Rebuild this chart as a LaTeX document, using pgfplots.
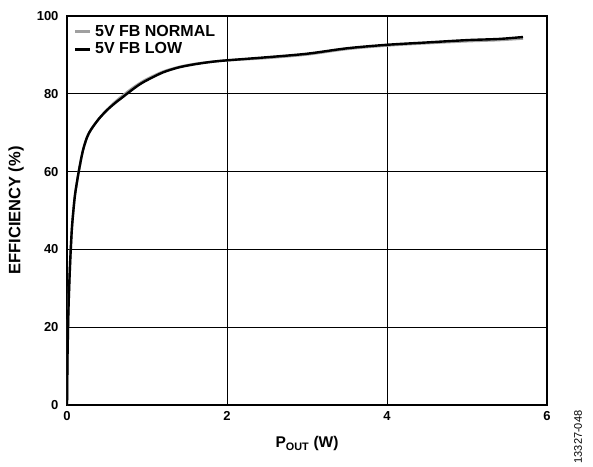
\documentclass[border=0pt]{standalone}
\usepackage{pgfplots}
\pgfplotsset{compat=1.18}
\usepackage{fontspec}
\setmainfont{Liberation Sans}
\definecolor{normgray}{RGB}{160,160,160}

\pgfplotstableread{
x y
0.000 0
0.003 6
0.006 12
0.015 22
0.025 29
0.040 37
0.060 45
0.080 50
0.100 54
0.130 58
0.160 61.5
0.200 65.5
0.250 68.8
0.300 70.8
0.400 73.6
0.500 75.9
0.600 77.9
0.700 79.6
0.800 81.2
0.900 82.6
1.000 83.8
1.200 85.7
1.400 86.9
1.600 87.7
1.800 88.2
2.000 88.6
2.500 89.2
3.000 90.1
3.500 91.5
4.000 92.4
4.500 93.0
5.000 93.5
5.400 93.8
5.700 94.2
}\normaldata

\pgfplotstableread{
x y
0.000 0
0.003 6
0.006 12
0.015 22
0.025 29
0.040 37
0.060 45
0.080 50
0.100 54
0.130 58
0.160 61.5
0.200 65.5
0.250 68.8
0.300 70.8
0.400 73.6
0.500 75.8
0.600 77.6
0.700 79.2
0.800 80.8
0.900 82.3
1.000 83.5
1.200 85.5
1.400 86.8
1.600 87.6
1.800 88.2
2.000 88.6
2.500 89.4
3.000 90.3
3.500 91.7
4.000 92.6
4.500 93.2
5.000 93.8
5.400 94.1
5.700 94.6
}\lowdata

\begin{document}
\begin{tikzpicture}
\begin{axis}[
	scale only axis,
	width=480pt,
	height=389pt,
	xmin=0, xmax=6,
	ymin=0, ymax=100,
	xtick={0,2,4,6},
	ytick={0,20,40,60,80,100},
	grid=major,
	major grid style={black, line width=0.8pt},
	axis line style={line width=1.3pt},
	tick style={draw=none},
	ticklabel style={font=\bfseries\fontsize{13}{15}\selectfont},
	xticklabel style={yshift=-3pt},
	yticklabel style={xshift=-5pt},
	/pgf/number format/assume math mode=true,
	xlabel={\textbf{P\textsubscript{OUT} (W)}},
	ylabel={\textbf{EFFICIENCY (\%)}},
	label style={font=\bfseries\fontsize{15.5}{17}\selectfont},
	xlabel style={yshift=-9pt},
	ylabel style={yshift=6pt, font=\bfseries\fontsize{16.5}{18}\selectfont},
	legend style={draw=none, fill=none, at={(0.014,0.982)}, anchor=north west,
		font=\bfseries\fontsize{16}{16}\selectfont, row sep=0.5pt,
		inner sep=0pt, nodes={inner sep=0.5pt, text height=12.5pt, text depth=3.5pt}},
	legend cell align=left,
	legend image code/.code={\draw[#1, line width=3pt] (0pt,0pt) -- (15pt,0pt);
		\path (18pt,0pt);},
]
\addplot[normgray, line width=2.4pt, smooth] table[x=x, y=y] {\normaldata};
\addplot[black, line width=2.4pt, smooth] table[x=x, y=y] {\lowdata};
\legend{5V FB NORMAL, 5V FB LOW}
\end{axis}
\node[rotate=90, font=\fontsize{11}{12}\selectfont] at (511pt,-32pt) {13327-048};
\path[use as bounding box] (-67pt,-56pt) rectangle (526pt,405pt);
\end{tikzpicture}
\end{document}
